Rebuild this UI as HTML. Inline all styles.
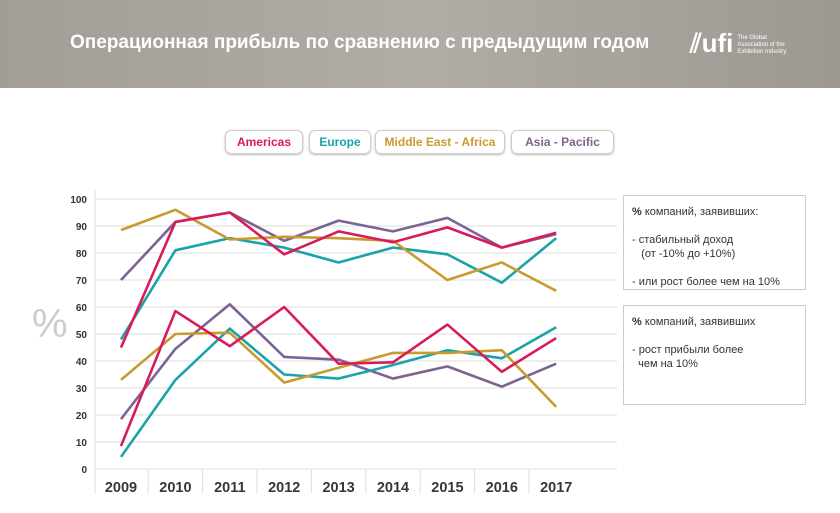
<!DOCTYPE html>
<html><head><meta charset="utf-8"><style>
body{margin:0;width:840px;height:513px;overflow:hidden;background:#fff;font-family:"Liberation Sans",sans-serif;position:relative}
.hdr{position:absolute;left:0;top:0;width:840px;height:88px;background:linear-gradient(90deg,#a29d97,#b1aca6 50%,#9d9892)}
.title{position:absolute;left:70px;top:32px;color:#fff;font-size:19px;font-weight:bold}
.leg{position:absolute;top:130px;height:22px;border:1px solid #ccc;border-radius:6px;font-size:12px;font-weight:bold;line-height:22px;text-align:center;box-shadow:0 1px 2px #bbb}
.box{position:absolute;left:623px;width:183px;border:1px solid #ccc;font-size:11px;color:#333;padding:9px 8px;box-sizing:border-box;line-height:14px}
</style></head><body>
<div class="hdr"></div>
<div class="title">Операционная прибыль по сравнению с предыдущим годом</div>
<div style="position:absolute;left:690px;top:28px;color:#fff;font-size:26px;font-weight:bold">⫽ufi<span style="font-size:6px;display:inline-block;line-height:7px;vertical-align:middle;margin-left:4px;font-weight:normal">The Global<br>Association of the<br>Exhibition Industry</span></div>
<div class="leg" style="left:225px;width:76px;color:#d81b5a">Americas</div>
<div class="leg" style="left:309px;width:60px;color:#1aa3a8">Europe</div>
<div class="leg" style="left:375px;width:128px;color:#c99a2e">Middle East - Africa</div>
<div class="leg" style="left:511px;width:101px;color:#7d6394">Asia - Pacific</div>
<div class="box" style="top:195px;height:95px"><b>%</b> компаний, заявивших:<br><br>- стабильный доход<br>&nbsp;&nbsp;&nbsp;(от -10% до +10%)<br><br>- или рост более чем на 10%</div>
<div class="box" style="top:305px;height:100px"><b>%</b> компаний, заявивших<br><br>- рост прибыли более<br>&nbsp;&nbsp;чем на 10%</div>
<div style="position:absolute;left:32px;top:302px;font-size:40px;color:#ccc">%</div>
<svg id="c" width="840" height="513" style="position:absolute;left:0;top:0"></svg>
<script>
const years=["2009","2010","2011","2012","2013","2014","2015","2016","2017"];
const yTicks=[0,10,20,30,40,50,60,70,80,90,100];
const americasUpper=[45,91.5,95,79.5,88,84,89.5,82,87.5];
const americasLower=[8.5,58.5,45.5,60,39,39.5,53.5,36,48.5];
const europeUpper=[48,81,85.5,82,76.5,82,79.5,69,85.5];
const europeLower=[4.5,33,52,35,33.5,38.5,44,41,52.5];
const meaUpper=[88.5,96,85,86,85.5,84.5,70,76.5,66];
const meaLower=[33,50,50.5,32,37.5,43,43,44,23];
const apacUpper=[70,91.5,95,84.5,92,88,93,82,87];
const apacLower=[18.5,44.5,61,41.5,40.5,33.5,38,30.5,39];
const series=[["apac-upper",apacUpper,"#7d6394"],["apac-lower",apacLower,"#7d6394"],["europe-upper",europeUpper,"#1aa3a8"],["europe-lower",europeLower,"#1aa3a8"],["mea-upper",meaUpper,"#c99a2e"],["mea-lower",meaLower,"#c99a2e"],["americas-upper",americasUpper,"#d81b5a"],["americas-lower",americasLower,"#d81b5a"]];
const svg=document.getElementById('c'),NS="http://www.w3.org/2000/svg";
const x=i=>121+i*54.4, y=v=>469-v*2.7;
function mk(t,a){const e=document.createElementNS(NS,t);for(const k in a)e.setAttribute(k,a[k]);svg.appendChild(e);return e;}
yTicks.forEach(v=>{
 const g=mk('line',{x1:95,x2:617,y1:y(v),y2:y(v),stroke:'#ddd','stroke-width':1});
 
 
 const t=mk('text',{x:87,y:y(v)+4,'text-anchor':'end','font-size':10,'font-weight':'bold',fill:'#333'});t.textContent=v;
 
 
});
mk('line',{x1:95,x2:95,y1:190,y2:493,stroke:'#ddd'});
years.forEach((yr,i)=>{
 const t=mk('text',{x:x(i),y:492,'text-anchor':'middle','font-size':14.5,'font-weight':'bold',fill:'#3a3632'});t.textContent=yr;
 
 
 if(i<years.length-1){
  const s=mk('line',{x1:x(i)+27.2,x2:x(i)+27.2,y1:470,y2:493,stroke:'#ddd'});
  
  
 }
});
series.forEach(([n,d,c])=>{
 const p=mk('polyline',{points:d.map((v,i)=>x(i)+','+y(v)).join(' '),fill:'none',stroke:c,'stroke-width':2.6,'stroke-linejoin':'round'});
 
 
});
</script>
</body></html>
